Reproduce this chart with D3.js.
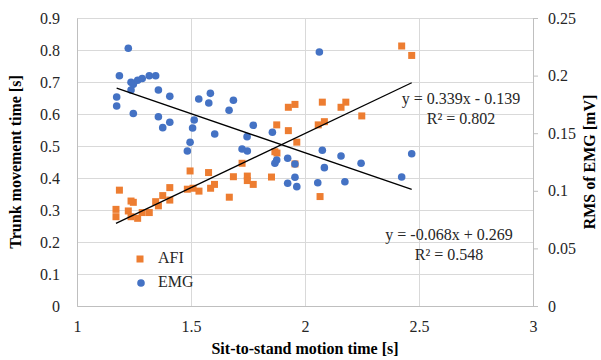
<!DOCTYPE html>
<html>
<head>
<meta charset="utf-8">
<script src="https://cdn.jsdelivr.net/npm/d3@7"></script>
<style>
  body { margin: 0; background: #fff; }
  svg text { font-family: "Liberation Serif", "Times New Roman", serif; }
</style>
</head>
<body>
<div id="chart"></div>
<script>
// AFI (left axis, trunk movement time [s])
const afiX = [1.171, 1.171, 1.186, 1.225, 1.237, 1.247, 1.237, 1.266, 1.286, 1.317,
  1.345, 1.357, 1.376, 1.407, 1.407, 1.484, 1.496, 1.509, 1.535, 1.577,
  1.586, 1.603, 1.668, 1.686, 1.724, 1.747, 1.747, 1.773, 1.853, 1.868,
  1.877, 1.876, 1.927, 1.956, 1.927, 1.964, 1.956, 2.076, 2.158, 2.179,
  2.249, 2.058, 2.085, 2.066, 2.424, 2.468];
const afiY = [0.302, 0.279, 0.362, 0.297, 0.328, 0.324, 0.279, 0.274, 0.292, 0.292,
  0.326, 0.313, 0.345, 0.370, 0.331, 0.365, 0.422, 0.368, 0.359, 0.417,
  0.368, 0.380, 0.340, 0.404, 0.446, 0.406, 0.392, 0.380, 0.403, 0.482,
  0.478, 0.566, 0.621, 0.630, 0.548, 0.512, 0.444, 0.637, 0.621, 0.637,
  0.594, 0.566, 0.576, 0.342, 0.8125, 0.783];

// EMG (right axis, RMS of EMG [mV])
const emgX = [1.225, 1.186, 1.237, 1.247, 1.266, 1.286, 1.317, 1.345, 1.237, 1.174,
  1.174, 1.247, 1.357, 1.407, 1.357, 1.376, 1.407, 1.534, 1.585, 1.578,
  1.686, 1.667, 1.514, 1.507, 1.604, 1.496, 1.484, 1.746, 1.724, 1.747,
  1.773, 1.857, 2.063, 1.876, 1.868, 1.924, 1.956, 2.076, 2.158, 2.246,
  2.085, 1.956, 1.924, 1.964, 2.056, 2.175, 2.468, 2.424];
const emgY = [0.2237, 0.1999, 0.1942, 0.1924, 0.1959, 0.1975, 0.1999, 0.1999, 0.1875, 0.1814,
  0.1736, 0.1671, 0.1875, 0.1820, 0.1643, 0.1548, 0.1595, 0.1797, 0.1846, 0.1762,
  0.1786, 0.1699, 0.1615, 0.1545, 0.1493, 0.1421, 0.1345, 0.1470, 0.1363, 0.1345,
  0.1569, 0.1508, 0.2205, 0.1267, 0.1239, 0.1282, 0.1233, 0.1352, 0.1302, 0.1239,
  0.1201, 0.1117, 0.1065, 0.1036, 0.1070, 0.1079, 0.1322, 0.1120];

// linear fits as printed on the chart: [slope, intercept], and their R²
const afiFit = [0.339, -0.139];
const emgFit = [-0.068, 0.269];
const afiR2 = 0.802;
const emgR2 = 0.548;

const xTicks = [1, 1.5, 2, 2.5, 3];
const leftTicks = [0, 0.1, 0.2, 0.3, 0.4, 0.5, 0.6, 0.7, 0.8, 0.9];
const rightTicks = [0, 0.05, 0.1, 0.15, 0.2, 0.25];

const W = 601, H = 360;
const margin = { top: 18, right: 68, bottom: 54, left: 77 };
const width = W - margin.left - margin.right;
const height = H - margin.top - margin.bottom;

const svg = d3.select('#chart').append('svg')
  .attr('width', W)
  .attr('height', H);

const g = svg.append('g')
  .attr('transform', `translate(${margin.left},${margin.top})`);

const x = d3.scaleLinear().domain([1, 3]).range([0, width]);
const yL = d3.scaleLinear().domain([0, 0.9]).range([height, 0]);
const yR = d3.scaleLinear().domain([0, 0.25]).range([height, 0]);

const tickColor = '#262626';
const gridColor = '#d9d9d9';
const axisColor = '#bfbfbf';

// gridlines
g.append('g')
  .call(d3.axisLeft(yL).tickValues(leftTicks).tickSize(-width).tickFormat(''))
  .call(s => s.select('.domain').remove())
  .selectAll('line').attr('stroke', gridColor);

g.append('g')
  .attr('transform', `translate(0,${height})`)
  .call(d3.axisBottom(x).tickValues(xTicks.slice(1, -1)).tickSize(-height).tickFormat(''))
  .call(s => s.select('.domain').remove())
  .selectAll('line').attr('stroke', gridColor);

// left axis
const gl = g.append('g')
  .call(d3.axisLeft(yL).tickValues(leftTicks).tickSize(0).tickPadding(17)
    .tickFormat(d => d === 0 ? '0' : d.toFixed(1)));
gl.select('.domain').attr('stroke', axisColor);
gl.selectAll('text').attr('fill', tickColor).style('font-size', '16px');

// bottom axis
const gb = g.append('g')
  .attr('transform', `translate(0,${height})`)
  .call(d3.axisBottom(x).tickValues(xTicks).tickSize(0).tickPadding(15)
    .tickFormat(d => String(d)));
gb.select('.domain').attr('stroke', axisColor);
gb.selectAll('text').attr('fill', tickColor).style('font-size', '16px');

// right axis
const gr = g.append('g')
  .attr('transform', `translate(${width},0)`)
  .call(d3.axisRight(yR).tickValues(rightTicks).tickSizeOuter(0).tickSizeInner(5).tickPadding(10)
    .tickFormat(d => String(d)));
gr.select('.domain').attr('stroke', axisColor);
gr.selectAll('line').attr('stroke', axisColor);
gr.selectAll('text').attr('fill', tickColor).style('font-size', '16px');

// trend lines, drawn over the data range
function trend(fit, xs, yScale) {
  const x0 = d3.min(xs), x1 = d3.max(xs);
  g.append('line')
    .attr('x1', x(x0)).attr('y1', yScale(fit[0] * x0 + fit[1]))
    .attr('x2', x(x1)).attr('y2', yScale(fit[0] * x1 + fit[1]))
    .attr('stroke', '#000')
    .attr('stroke-width', 1.3);
}

// points
const sq = 7;
g.append('g').selectAll('rect')
  .data(afiX.map((v, i) => [v, afiY[i]]))
  .join('rect')
    .attr('x', d => x(d[0]) - sq / 2)
    .attr('y', d => yL(d[1]) - sq / 2)
    .attr('width', sq)
    .attr('height', sq)
    .attr('fill', '#ED7D31');

g.append('g').selectAll('circle')
  .data(emgX.map((v, i) => [v, emgY[i]]))
  .join('circle')
    .attr('cx', d => x(d[0]))
    .attr('cy', d => yR(d[1]))
    .attr('r', 3.8)
    .attr('fill', '#4472C4');

trend(afiFit, afiX, yL);
trend(emgFit, emgX, yR);

// trend labels (plain hyphen for minus, as in the original)
function eqText(fit) {
  const sign = fit[1] < 0 ? ' - ' : ' + ';
  return `y = ${fit[0].toFixed(3).replace('−', '-')}x${sign}${Math.abs(fit[1]).toFixed(3)}`;
}
const labels = [
  { text: eqText(afiFit), x: 461, y: 100 },
  { text: `R² = ${afiR2.toFixed(3)}`, x: 461, y: 120 },
  { text: eqText(emgFit), x: 449, y: 236 },
  { text: `R² = ${emgR2.toFixed(3)}`, x: 449, y: 256 }
];
svg.append('g').selectAll('text')
  .data(labels)
  .join('text')
    .attr('x', d => d.x)
    .attr('y', d => d.y)
    .attr('text-anchor', 'middle')
    .attr('dominant-baseline', 'middle')
    .attr('fill', tickColor)
    .style('font-size', '16px')
    .text(d => d.text);

// legend
const legend = svg.append('g');
legend.append('rect')
  .attr('x', 140 - sq / 2).attr('y', 259 - sq / 2)
  .attr('width', sq).attr('height', sq)
  .attr('fill', '#ED7D31');
legend.append('circle')
  .attr('cx', 141).attr('cy', 283).attr('r', 3.8)
  .attr('fill', '#4472C4');
legend.selectAll('text')
  .data([['AFI', 259], ['EMG', 283]])
  .join('text')
    .attr('x', 158)
    .attr('y', d => d[1])
    .attr('dominant-baseline', 'middle')
    .attr('fill', tickColor)
    .style('font-size', '16px')
    .text(d => d[0]);

// axis titles
svg.append('text')
  .attr('x', margin.left + width / 2)
  .attr('y', 350)
  .attr('text-anchor', 'middle')
  .attr('dominant-baseline', 'middle')
  .style('font-size', '16px')
  .style('font-weight', 'bold')
  .text('Sit-to-stand motion time [s]');

svg.append('text')
  .attr('transform', `translate(17,${margin.top + height / 2}) rotate(-90)`)
  .attr('text-anchor', 'middle')
  .attr('dominant-baseline', 'middle')
  .style('font-size', '16px')
  .style('font-weight', 'bold')
  .text('Trunk movement time [s]');

svg.append('text')
  .attr('transform', `translate(591,${margin.top + height / 2}) rotate(-90)`)
  .attr('text-anchor', 'middle')
  .attr('dominant-baseline', 'middle')
  .style('font-size', '16px')
  .style('font-weight', 'bold')
  .text('RMS of EMG [mV]');
</script>
</body>
</html>
